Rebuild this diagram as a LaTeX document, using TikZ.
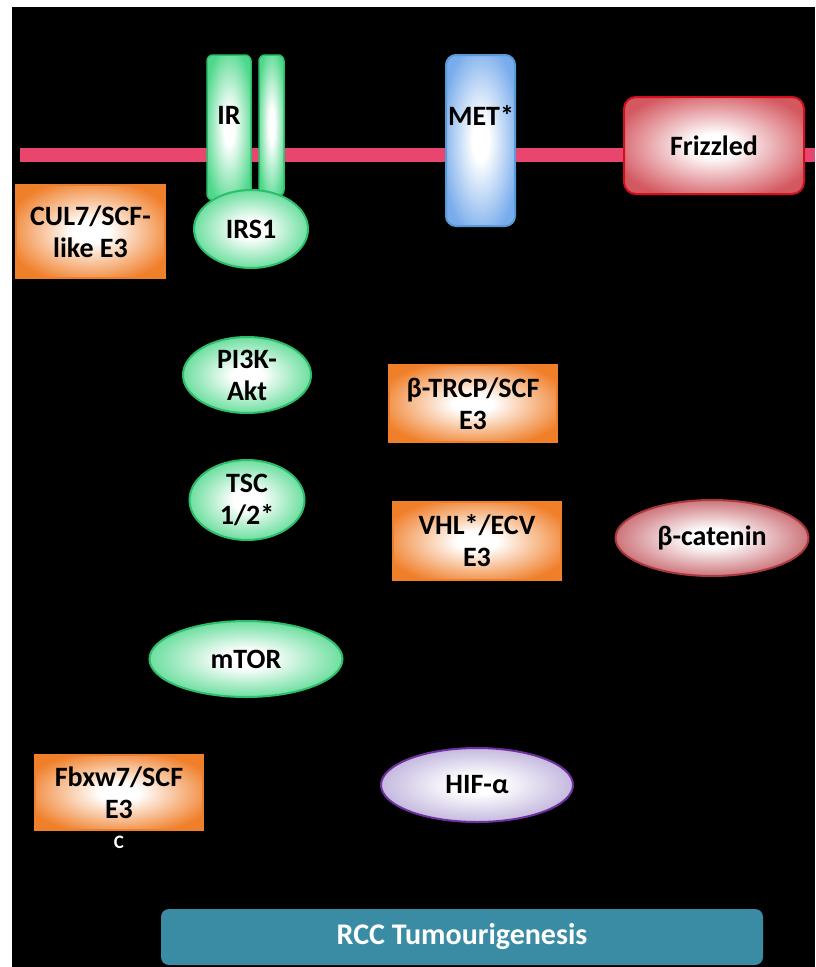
\documentclass[tikz,border=0pt]{standalone}
\usepackage{fontspec}
\setmainfont{Carlito}
\usepackage{xcolor}
\usetikzlibrary{positioning,shapes.geometric}

\definecolor{membrane}{HTML}{E8466F}
\definecolor{grnline}{HTML}{2DBE6C}
\definecolor{grnfill}{HTML}{4FD88C}
\definecolor{orgline}{HTML}{EE7F2D}
\definecolor{orgfill}{HTML}{F07F2A}
\definecolor{metline}{HTML}{5B9BD5}
\definecolor{metfill}{HTML}{78ACEC}
\definecolor{fzdline}{HTML}{D0101E}
\definecolor{fzdfill}{HTML}{D45860}
\definecolor{catline}{HTML}{A8383E}
\definecolor{catfill}{HTML}{C2585F}
\definecolor{hifline}{HTML}{7030A0}
\definecolor{hiffill}{HTML}{B8AAD8}
\definecolor{rccfill}{HTML}{3A8CA4}

% soft glow: white middle, colour towards the rim
\colorlet{glowrim}{white}
\pgfdeclareradialshading[glowrim]{glow}{\pgfpoint{0bp}{0bp}}{%
	color(0bp)=(white); color(6bp)=(white); color(29bp)=(glowrim); color(50bp)=(glowrim)}

\tikzset{
	every node/.style={font=\fontsize{28}{32}\selectfont\bfseries, align=center, inner sep=0pt},
	glowing/.style={/utils/exec={\colorlet{glowrim}{#1}}, shading=glow},
	greenprot/.style={ellipse, draw=grnline, line width=2pt, glowing=grnfill},
	greenbar/.style={rectangle, rounded corners=6pt, draw=grnline, line width=1.5pt, glowing=grnfill},
	ligase/.style={rectangle, draw=orgline, line width=2pt, glowing=orgfill},
}

\begin{document}
\begin{tikzpicture}[x=1pt, y=-1pt]
	\useasboundingbox (0,0) rectangle (815,967);
	\fill[black] (12,7) rectangle (815,967);

	% membrane and receptors
	\node[fill=membrane, minimum width=795pt, minimum height=14pt, anchor=west] (memb) at (20,155) {};
	\node[greenbar, minimum width=44pt, minimum height=145pt] (irleft) at (229,127.5) {};
	\node[greenbar, minimum width=25pt, minimum height=141pt] (irright) at (271.5,125.5) {};
	\node (irlabel) at (229,115) {IR};
	\node[greenprot, minimum width=114pt, minimum height=78pt] (irs) at (251,229) {IRS1};
	\node[rectangle, rounded corners=10pt, draw=metline, line width=2pt, glowing=metfill,
		minimum width=69pt, minimum height=171pt] (met) at (480.5,140.5) {};
	\node (metlabel) at (481,115) {MET*};
	\node[rectangle, rounded corners=12pt, draw=fzdline, line width=2pt, glowing=fzdfill,
		minimum width=180pt, minimum height=97pt] (fzd) at (714,145.5) {Frizzled};

	% pathway
	\node[ligase, minimum width=149pt, minimum height=93pt] (cul) at (90.5,231.5) {CUL7/SCF-\\like E3};
	\node[greenprot, minimum width=128pt, minimum height=76pt] (pi3k) at (247,375) {PI3K-\\Akt};
	\node[greenprot, minimum width=115pt, minimum height=80pt] (tsc) at (247,500) {TSC\\1/2*};
	\node[greenprot, minimum width=193pt, minimum height=76pt] (mtor) at (246,659) {mTOR};
	\node[ligase, minimum width=168pt, minimum height=77pt] (btrcp) at (473,403.5) {β-TRCP/SCF\\E3};
	\node[ligase, minimum width=168pt, minimum height=78pt] (vhl) at (477,541) {VHL*/ECV\\E3};
	\node[ellipse, draw=catline, line width=2pt, glowing=catfill,
		minimum width=193pt, minimum height=76pt] (bcat) at (712,538) {β-catenin};
	\node[ellipse, draw=hifline, line width=2pt, glowing=hiffill,
		minimum width=192pt, minimum height=74pt] (hif) at (477,785) {HIF-α};
	\node[ligase, minimum width=168pt, minimum height=75pt] (fbxw) at (119,792.5) {Fbxw7/SCF\\E3};
	\node[below=5pt of fbxw, text=white, font=\fontsize{19}{20}\selectfont\bfseries] (fbxwnote) {C};

	\node[rectangle, rounded corners=8pt, fill=rccfill, text=white, font=\fontsize{30}{34}\selectfont\bfseries,
		minimum width=602pt, minimum height=56pt] (rcc) at (462,937) {RCC Tumourigenesis};
\end{tikzpicture}
\end{document}
